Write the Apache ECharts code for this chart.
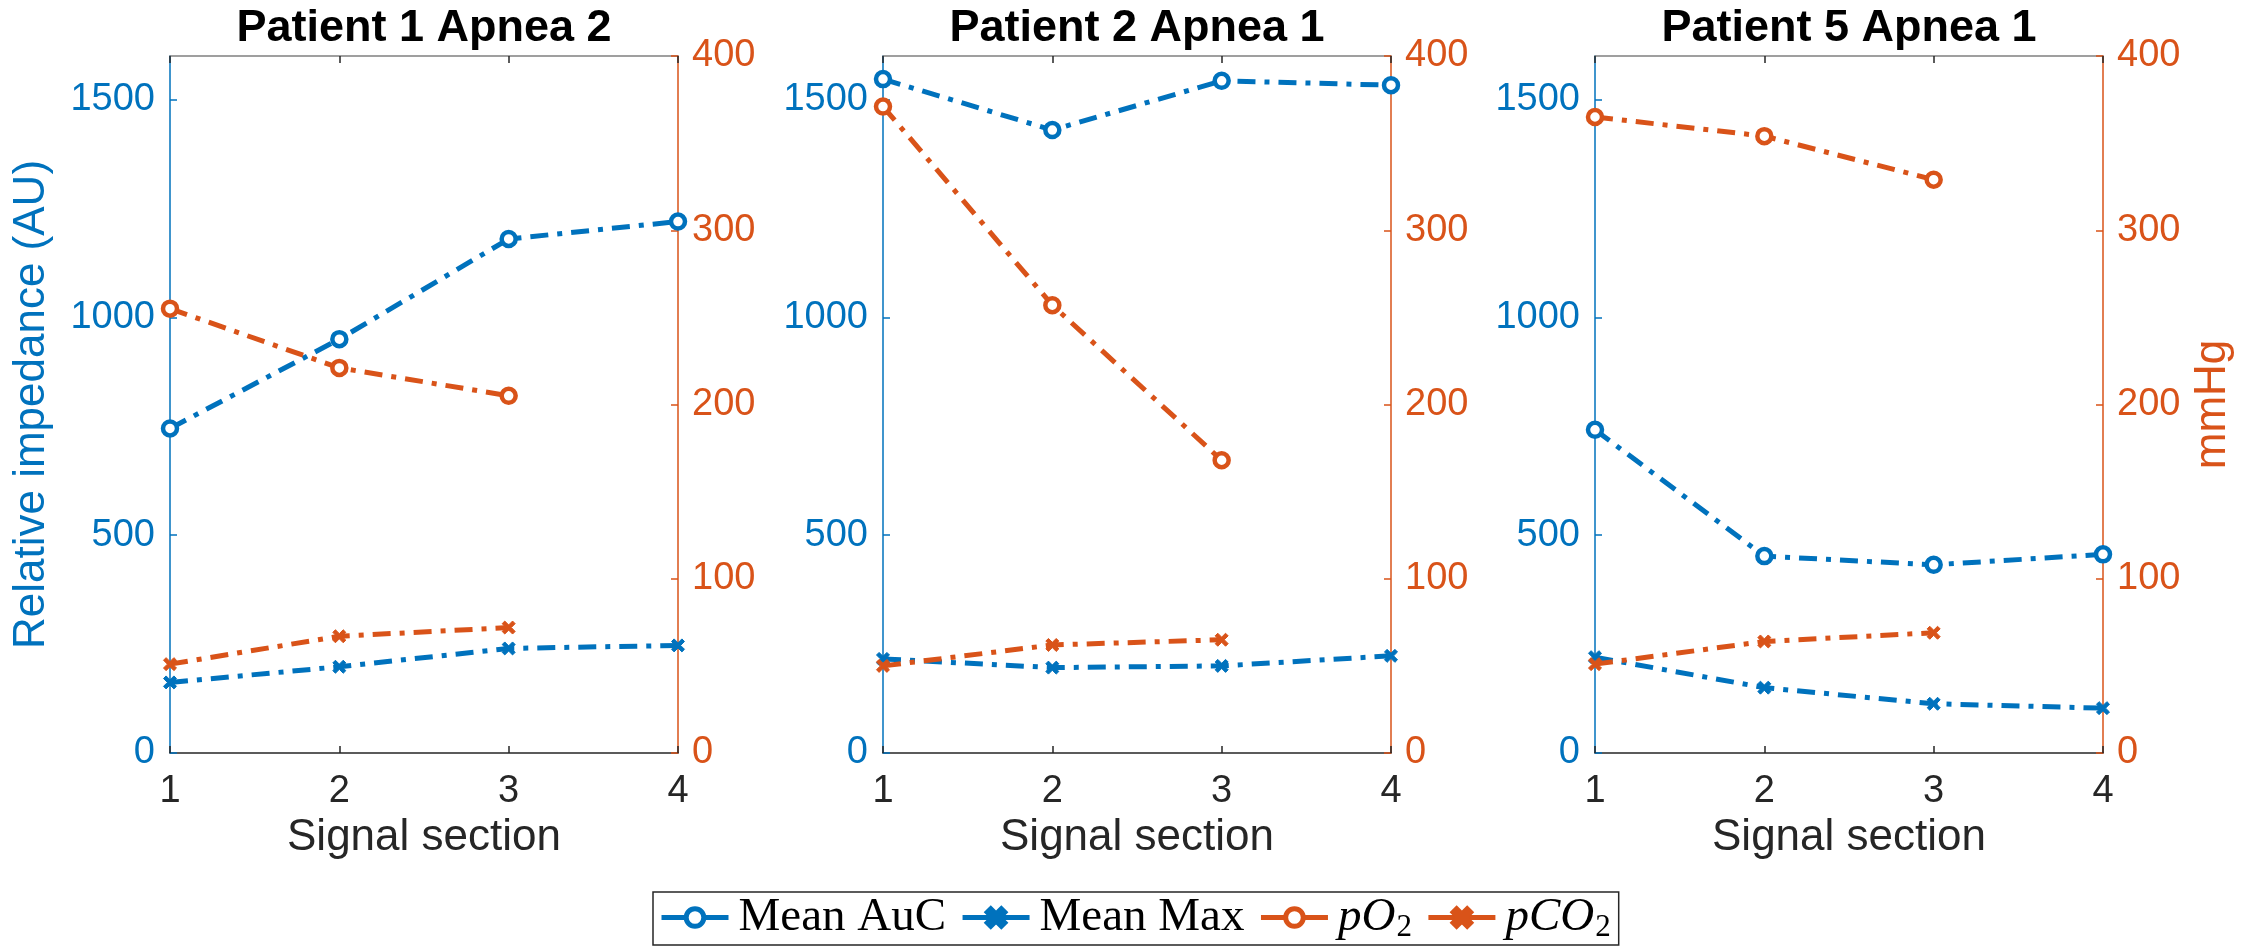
<!DOCTYPE html>
<html>
<head>
<meta charset="utf-8">
<script src="https://cdn.jsdelivr.net/npm/echarts@6/dist/echarts.min.js"></script>
<style>
  html, body { margin: 0; padding: 0; background: #ffffff; }
  #chart { width: 2267px; height: 952px; }
</style>
</head>
<body>
<div id="chart"></div>
<script>
// Signal sections on the x axis
const sections = [1, 2, 3, 4];
const panelTitles = ['Patient 1 Apnea 2', 'Patient 2 Apnea 1', 'Patient 5 Apnea 1'];

// Relative impedance (AU), left axis
const p1MeanAuc = [745, 950, 1180, 1220];
const p1MeanMax = [162, 198, 240, 247];
const p2MeanAuc = [1547, 1430, 1543, 1533];
const p2MeanMax = [216, 196, 200, 223];
const p3MeanAuc = [742, 452, 432, 456];
const p3MeanMax = [220, 150, 113, 103];

// Blood gases (mmHg), right axis, sections 1-3 only
const p1PO2 = [255, 221, 205];
const p1PCO2 = [51, 67, 72];
const p2PO2 = [371, 257, 168];
const p2PCO2 = [50, 62, 65];
const p3PO2 = [365, 354, 329];
const p3PCO2 = [51, 64, 69];

const leftTicks = { min: 0, max: 1600, interval: 500 };
const rightTicks = { min: 0, max: 400, interval: 100 };

const BLUE = '#0072BD';
const ORANGE = '#D95319';
const INK = '#262626';
const SANS = '"Liberation Sans", Arial, Helvetica, sans-serif';
const SERIF = '"Liberation Serif", "Times New Roman", serif';
const DASHDOT = [18, 9, 5, 9];
const CROSS = 'path://M2,0L5,3L8,0L10,2L7,5L10,8L8,10L5,7L2,10L0,8L3,5L0,2Z';

const panels = [
  { auc: p1MeanAuc, max: p1MeanMax, po2: p1PO2, pco2: p1PCO2 },
  { auc: p2MeanAuc, max: p2MeanMax, po2: p2PO2, pco2: p2PCO2 },
  { auc: p3MeanAuc, max: p3MeanMax, po2: p3PO2, pco2: p3PCO2 }
];

const gridLeft = [170, 883, 1595];
const gridWidth = 508;
const gridTop = 56;
const gridBottom = 199;

const pairs = vals => vals.map((v, i) => [sections[i], v]);
const plain = v => String(v);

const grids = [], xAxes = [], yAxes = [], series = [], titles = [];

panels.forEach((p, i) => {
  grids.push({ left: gridLeft[i], width: gridWidth, top: gridTop, bottom: gridBottom, containLabel: false });

  titles.push({
    text: panelTitles[i],
    left: gridLeft[i] + gridWidth / 2,
    top: 6,
    textAlign: 'center',
    padding: 0,
    textStyle: { fontFamily: SANS, fontSize: 45, fontWeight: 'bold', color: '#000' }
  });

  // bottom x axis
  xAxes.push({
    type: 'value', gridIndex: i, position: 'bottom',
    min: 1, max: 4, interval: 1,
    axisLine: { show: true, onZero: false, lineStyle: { color: INK, width: 1.5 } },
    axisTick: { show: true, inside: true, length: 7, lineStyle: { color: INK, width: 1.5 } },
    axisLabel: { fontFamily: SANS, fontSize: 38, color: INK, margin: 20, formatter: plain },
    splitLine: { show: false },
    name: 'Signal section', nameLocation: 'middle', nameGap: 56,
    nameTextStyle: { fontFamily: SANS, fontSize: 44, color: INK }
  });
  // top box edge
  xAxes.push({
    type: 'value', gridIndex: i, position: 'top',
    min: 1, max: 4, interval: 1,
    axisLine: { show: true, onZero: false, lineStyle: { color: '#808080', width: 1.5 } },
    axisTick: { show: true, inside: true, length: 7, lineStyle: { color: INK, width: 1.5 } },
    axisLabel: { show: false },
    splitLine: { show: false }
  });

  // left y axis: relative impedance
  const yl = {
    type: 'value', gridIndex: i, position: 'left',
    min: leftTicks.min, max: leftTicks.max, interval: leftTicks.interval,
    axisLine: { show: true, onZero: false, lineStyle: { color: BLUE, width: 1.5 } },
    axisTick: { show: true, inside: true, length: 7, lineStyle: { color: BLUE, width: 1.5 } },
    axisLabel: { fontFamily: SANS, fontSize: 38, color: BLUE, margin: 15, showMaxLabel: false, formatter: plain },
    splitLine: { show: false }
  };
  if (i === 0) {
    yl.name = 'Relative impedance (AU)';
    yl.nameLocation = 'middle';
    yl.nameRotate = 90;
    yl.nameGap = 116;
    yl.nameTextStyle = { fontFamily: SANS, fontSize: 44, color: BLUE };
  }
  yAxes.push(yl);

  // right y axis: mmHg
  const yr = {
    type: 'value', gridIndex: i, position: 'right',
    min: rightTicks.min, max: rightTicks.max, interval: rightTicks.interval,
    axisLine: { show: true, onZero: false, lineStyle: { color: ORANGE, width: 1.5 } },
    axisTick: { show: true, inside: true, length: 7, lineStyle: { color: ORANGE, width: 1.5 } },
    axisLabel: { fontFamily: SANS, fontSize: 38, color: ORANGE, margin: 14, formatter: plain },
    splitLine: { show: false }
  };
  if (i === 2) {
    yr.name = 'mmHg';
    yr.nameLocation = 'middle';
    yr.nameRotate = 90;
    yr.nameGap = 88;
    yr.nameTextStyle = { fontFamily: SANS, fontSize: 44, color: ORANGE };
  }
  yAxes.push(yr);

  const base = (name, color, vals, yIdx, marker, z) => ({
    name, type: 'line', xAxisIndex: 2 * i, yAxisIndex: yIdx,
    data: pairs(vals), color,
    symbol: marker === 'o' ? 'circle' : CROSS,
    symbolSize: marker === 'o' ? 14 : 13,
    showSymbol: true,
    itemStyle: marker === 'o'
      ? { color: '#ffffff', borderColor: color, borderWidth: 4.5 }
      : { color: color, borderColor: color, borderWidth: 1 },
    lineStyle: { color, width: 5, type: DASHDOT },
    z
  });

  series.push(base('Mean AuC', BLUE, p.auc, 2 * i, 'o', 3));
  series.push(base('Mean Max', BLUE, p.max, 2 * i, 'x', 3));
  series.push(base('pO2', ORANGE, p.po2, 2 * i + 1, 'o', 4));
  series.push(base('pCO2', ORANGE, p.pco2, 2 * i + 1, 'x', 4));
});

const chart = echarts.init(document.getElementById('chart'), null, { renderer: 'canvas' });
chart.setOption({
  animation: false,
  backgroundColor: '#ffffff',
  title: titles,
  grid: grids,
  xAxis: xAxes,
  yAxis: yAxes,
  legend: {
    data: ['Mean AuC', 'Mean Max', 'pO2', 'pCO2'],
    left: 653, top: 892,
    orient: 'horizontal',
    itemWidth: 67, itemHeight: 22, itemGap: 14,
    padding: [2, 8, 2, 6],
    borderColor: INK, borderWidth: 1.5,
    backgroundColor: '#ffffff',
    lineStyle: { width: 5, type: 'solid' },
    itemStyle: { borderWidth: 5 },
    formatter: name => {
      if (name === 'pO2') return '{it|pO}{sub|2}';
      if (name === 'pCO2') return '{it|pCO}{sub|2}';
      return name;
    },
    textStyle: {
      fontFamily: SERIF, fontSize: 47, color: '#000', padding: [0, 0, 0, 5],
      rich: {
        it: { fontFamily: SERIF, fontSize: 47, fontStyle: 'italic', color: '#000' },
        sub: { fontFamily: SERIF, fontSize: 31, color: '#000', padding: [20, 0, 0, 1] }
      }
    }
  },
  series
});
</script>
</body>
</html>
